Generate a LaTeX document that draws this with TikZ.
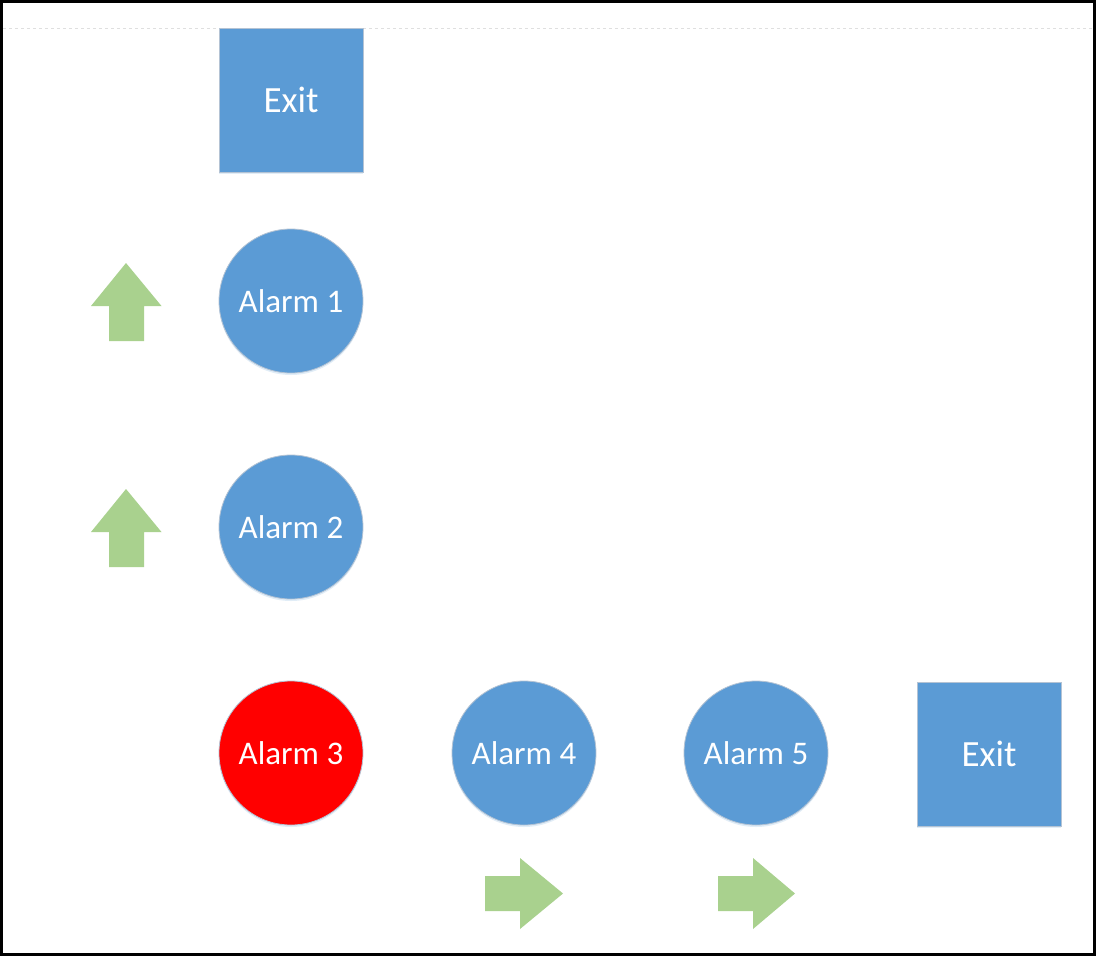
\documentclass[tikz,border=0pt]{standalone}
\usepackage{fontspec}
\setmainfont{Carlito}
\definecolor{boxblue}{HTML}{5B9BD5}
\definecolor{arrgreen}{HTML}{A9D18E}
\definecolor{edgegray}{HTML}{B4C3D4}
\begin{document}
\begin{tikzpicture}[x=1pt,y=-1pt,
  alarm/.style={circle,fill=boxblue,draw=edgegray,line width=0.8pt,minimum size=144pt,inner sep=0pt,text=white,font=\fontsize{33}{40}\selectfont},
  redalarm/.style={alarm,fill=red},
  exitbox/.style={rectangle,fill=boxblue,draw=edgegray,line width=0.8pt,minimum size=144pt,inner sep=0pt,text=white,font=\fontsize{37}{44}\selectfont},
  shadowc/.style={circle,fill=boxblue!18,minimum size=144pt,inner sep=0pt},
  shadowr/.style={rectangle,fill=boxblue!18,minimum size=144pt,inner sep=0pt},
  greenarrow/.style={fill=arrgreen}]
\useasboundingbox (0,0) rectangle (1096,956);
\fill[white] (0,0) rectangle (1096,956);
\draw[gray!25,dashed,line width=0.6pt] (3,28) -- (1093,28);
% shadows
\foreach \p in {(291,303),(291,529),(291,755),(524,755),(756,755)}
  \node[shadowc] at \p {};
\node[shadowr] at (291,102) {};
\node[shadowr] at (989,756) {};
% shapes
\node[exitbox] (exit1) at (291,100) {Exit};
\node[alarm] (a1) at (291,301) {Alarm 1};
\node[alarm] (a2) at (291,527) {Alarm 2};
\node[redalarm] (a3) at (291,753) {Alarm 3};
\node[alarm] (a4) at (524,753) {Alarm 4};
\node[alarm] (a5) at (756,753) {Alarm 5};
\node[exitbox] (exit2) at (989,754) {Exit};
% up arrows
\fill[greenarrow] (126,263) -- (161.5,306) -- (144,306) -- (144,341) -- (109,341) -- (109,306) -- (91,306) -- cycle;
\fill[greenarrow] (126,489) -- (161.5,532) -- (144,532) -- (144,567) -- (109,567) -- (109,532) -- (91,532) -- cycle;
% right arrows
\fill[greenarrow] (563,893.5) -- (520,929) -- (520,911) -- (485,911) -- (485,876) -- (520,876) -- (520,858) -- cycle;
\fill[greenarrow] (795,893.5) -- (753,929) -- (753,911) -- (718,911) -- (718,876) -- (753,876) -- (753,858) -- cycle;
% frame
\draw[black,line width=3pt] (1.5,1.5) rectangle (1094.5,954.5);
\end{tikzpicture}
\end{document}
